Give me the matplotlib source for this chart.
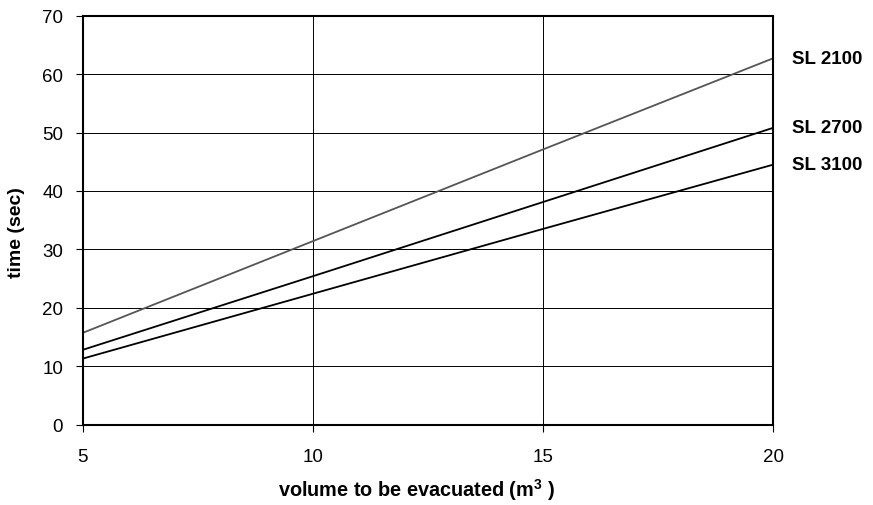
import matplotlib
matplotlib.use("Agg")
import matplotlib.pyplot as plt

plt.rcParams["font.family"] = ["Liberation Sans", "DejaVu Sans"]
plt.rcParams["mathtext.fontset"] = "custom"
plt.rcParams["mathtext.bf"] = "Liberation Sans:bold"
plt.rcParams["mathtext.default"] = "bf"

volume = [5, 10, 15, 20]
series_names = ["SL 2100", "SL 2700", "SL 3100"]
sl2100 = [15.7, 31.4, 47.1, 62.7]
sl2700 = [12.8, 25.4, 38.1, 50.8]
sl3100 = [11.3, 22.4, 33.5, 44.5]
series = [sl2100, sl2700, sl3100]
colors = ["#555555", "black", "black"]

fig = plt.figure(figsize=(8.73, 5.06), dpi=100)
ax = fig.add_axes([82.5 / 873, 1 - 425.7 / 506, (773 - 82.5) / 873, (425.7 - 16.7) / 506])

for vals, c in zip(series, colors):
    ax.plot(volume, vals, color=c, linewidth=1.3)

for name, vals in zip(series_names, series):
    ax.text(1.027, vals[-1], name, transform=ax.get_yaxis_transform(),
            fontsize=13.5, fontweight="bold", va="center", ha="left")

ax.set_xlim(5, 20)
ax.set_ylim(0, 70)
ax.set_xticks([5, 10, 15, 20])
ax.set_yticks(range(0, 71, 10))
ax.grid(True, color="black", linewidth=0.7)
for s in ax.spines.values():
    s.set_linewidth(1.5)
ax.tick_params(direction="out", length=5, width=0.8, labelsize=13.5)
ax.tick_params(axis="x", pad=12)
ax.tick_params(axis="y", pad=9)

ax.set_xlabel("volume to be evacuated (m$^3$ )", fontsize=14.3, fontweight="bold", va="center")
ax.set_ylabel("time (sec)", fontsize=14, fontweight="bold", va="center")
ax.xaxis.set_label_coords(0.484, -0.157)
ax.yaxis.set_label_coords(-0.095, 0.471)

fig.savefig("out.png", dpi=100)
